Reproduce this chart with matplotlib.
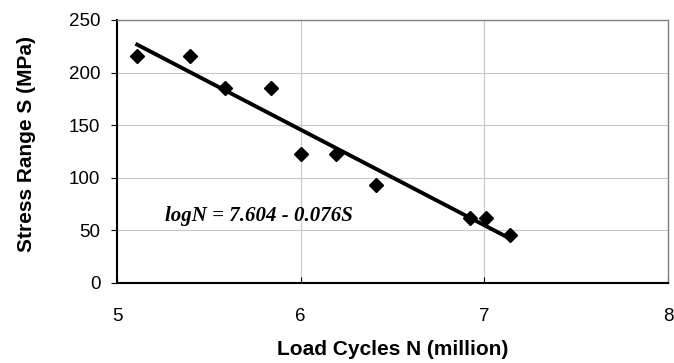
import numpy as np
import matplotlib
matplotlib.use('Agg')
import matplotlib.pyplot as plt

# data
load_cycles = [5.11, 5.40, 5.59, 5.84, 6.00, 6.19, 6.41, 6.92, 7.01, 7.14]
stress_range = [216, 216, 185, 185, 123, 123, 93, 62, 62, 46]
x_ticks = [5, 6, 7, 8]
y_ticks = [0, 50, 100, 150, 200, 250]
eq_text = 'logN = 7.604 - 0.076S'

plt.rcParams['font.family'] = ['Liberation Sans', 'DejaVu Sans']

fig = plt.figure(figsize=(6.74, 3.63), dpi=100)
ax = fig.add_axes([0.1736, 0.2204, 0.8174, 0.7246])

ax.plot(load_cycles, stress_range, linestyle='none', marker='D', ms=7.5,
        color='black', zorder=3)

# linear trend line over the data range
k, b = np.polyfit(load_cycles, stress_range, 1)
xl = np.array([min(load_cycles), max(load_cycles)])
ax.plot(xl, k * xl + b, color='black', lw=2.8, zorder=2)

ax.text(5.26, 64, eq_text, fontsize=15, fontweight='bold', style='italic',
        family='Liberation Serif', va='center', ha='left')

ax.set_xlim(5, 8)
ax.set_ylim(0, 250)
ax.set_xticks(x_ticks)
ax.set_yticks(y_ticks)
ax.grid(True, color='#c8c8c8', lw=0.8)
ax.set_axisbelow(True)

for s in ['top', 'right']:
    ax.spines[s].set_color('#808080')
    ax.spines[s].set_linewidth(1.0)
for s in ['left', 'bottom']:
    ax.spines[s].set_color('black')
    ax.spines[s].set_linewidth(1.5)

ax.tick_params(axis='y', direction='out', length=4, labelsize=13.5, pad=8)
ax.tick_params(axis='x', direction='in', length=4, labelsize=13.5, pad=18)

ax.set_xlabel('Load Cycles N (million)', fontsize=15, fontweight='bold')
ax.set_ylabel('Stress Range S (MPa)', fontsize=15, fontweight='bold')
ax.xaxis.set_label_coords(0.5, -0.215)
ax.yaxis.set_label_coords(-0.147, 0.528)

fig.savefig('out.png', dpi=100)
